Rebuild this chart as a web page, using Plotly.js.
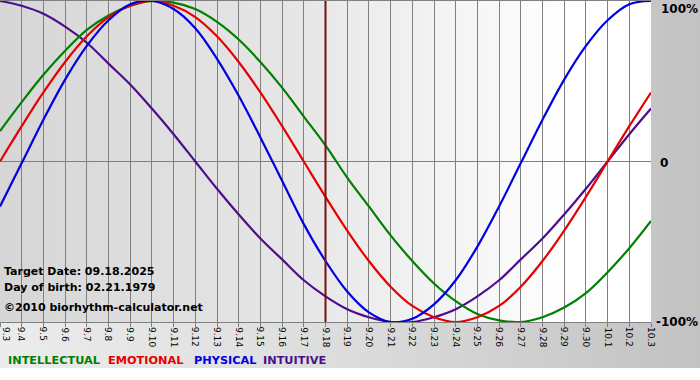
<!DOCTYPE html>
<html>
<head>
<meta charset="utf-8">
<script src="https://cdn.plot.ly/plotly-3.0.1.min.js"></script>
<style>
  html, body { margin: 0; padding: 0; background: #ffffff; }
  #wrap { position: relative; width: 700px; height: 380px; overflow: hidden; }
  #bgOuter { position: absolute; left: 0; top: 0; width: 700px; height: 368px;
    background: linear-gradient(to right, #ececec 0%, #dcdcdc 50%, #c2c2c2 100%); }
  #bgPlot { position: absolute; left: 0; top: 1px; width: 651px; height: 321px;
    background: linear-gradient(to right, #d6d6d6 0%, #e6e6e6 45%, #ffffff 88%, #ffffff 100%); }
  #chart { position: absolute; left: 0; top: 0; width: 700px; height: 380px; }
</style>
</head>
<body>
<div id="wrap">
  <div id="bgOuter"></div>
  <div id="bgPlot"></div>
  <div id="chart"></div>
</div>
<script>
// Day labels (Sept 3 .. Oct 3)
const dayLabels = ["9.3","9.4","9.5","9.6","9.7","9.8","9.9","9.10","9.11","9.12","9.13","9.14","9.15","9.16","9.17","9.18","9.19","9.20","9.21","9.22","9.23","9.24","9.25","9.26","9.27","9.28","9.29","9.30","10.1","10.2","10.3"];

// Values (fraction of 100%)
const physical = [-0.28,-0.01,0.26,0.51,0.72,0.88,0.98,1.00,0.95,0.83,0.64,0.41,0.15,-0.12,-0.39,-0.62,-0.81,-0.94,-1.00,-0.98,-0.89,-0.74,-0.53,-0.28,-0.01,0.26,0.51,0.72,0.88,0.98,1.00];
const emotional = [0.00,0.22,0.43,0.62,0.78,0.90,0.97,1.00,0.97,0.90,0.78,0.62,0.43,0.22,0.00,-0.22,-0.43,-0.62,-0.78,-0.90,-0.97,-1.00,-0.97,-0.90,-0.78,-0.62,-0.43,-0.22,0.00,0.22,0.43];
const intellectual = [0.19,0.37,0.54,0.69,0.82,0.91,0.97,1.00,0.99,0.95,0.87,0.76,0.62,0.46,0.28,0.10,-0.10,-0.28,-0.46,-0.62,-0.76,-0.87,-0.95,-0.99,-1.00,-0.97,-0.91,-0.82,-0.69,-0.54,-0.37];
const intuitive = [1.00,0.97,0.92,0.84,0.74,0.61,0.48,0.33,0.17,0.00,-0.17,-0.33,-0.48,-0.61,-0.74,-0.84,-0.92,-0.97,-1.00,-1.00,-0.97,-0.92,-0.84,-0.74,-0.61,-0.48,-0.33,-0.17,0.00,0.17,0.33];

const targetIndex = 15; // 9.18
const yTickVals = [-1, 0, 1];
const yTickText = ["-100%", "0", "100%"];

const xIdx = dayLabels.map((_, i) => i);
const F = "DejaVu Sans, Verdana, sans-serif";

function line(y, color, name) {
  return { x: xIdx, y: y, type: "scatter", mode: "lines", name: name,
    line: { color: color, width: 2.2, shape: "spline", smoothing: 1 },
    hoverinfo: "skip", cliponaxis: true };
}

const traces = [
  line(intuitive, "#4b0f8c", "INTUITIVE"),
  line(intellectual, "#008000", "INTELLECTUAL"),
  line(emotional, "#e80000", "EMOTIONAL"),
  line(physical, "#0000e0", "PHYSICAL")
];

const PW = 651, PH = 321, PB = 322;
const annotations = [
  { xref: "paper", yref: "paper", x: 1, y: 1, xanchor: "left", yanchor: "top", xshift: 8, yshift: 1,
    text: "<b>" + yTickText[2] + "</b>", showarrow: false, font: { family: F, size: 12, color: "#000" } },
  { xref: "paper", yref: "y", x: 1, y: 0, xanchor: "left", yanchor: "middle", xshift: 7, yshift: -1,
    text: "<b>" + yTickText[1] + "</b>", showarrow: false, font: { family: F, size: 12, color: "#000" } },
  { xref: "paper", yref: "y", x: 1, y: -1, xanchor: "left", yanchor: "middle", xshift: 3,
    text: "<b>" + yTickText[0] + "</b>", showarrow: false, font: { family: F, size: 12, color: "#000" } },
  { xref: "paper", yref: "paper", x: 2 / PW, y: (PB - 271) / PH, xanchor: "left", yanchor: "middle",
    text: "<b>Target Date: 09.18.2025</b>", showarrow: false, font: { family: F, size: 11, color: "#000" } },
  { xref: "paper", yref: "paper", x: 2 / PW, y: (PB - 287) / PH, xanchor: "left", yanchor: "middle",
    text: "<b>Day of birth: 02.21.1979</b>", showarrow: false, font: { family: F, size: 11, color: "#000" } },
  { xref: "paper", yref: "paper", x: 2 / PW, y: (PB - 307) / PH, xanchor: "left", yanchor: "middle",
    text: "<b>©2010 biorhythm-calculator.net</b>", showarrow: false, font: { family: F, size: 11, color: "#000" } }
];

// rotated day labels, top-aligned just below the ticks
dayLabels.forEach((lab, i) => annotations.push({
  xref: "x", yref: "paper", x: i, y: (PB - 326) / PH,
  xanchor: i === 0 ? "left" : "center", yanchor: "top",
  textangle: 90, text: lab, showarrow: false, borderpad: 0,
  font: { family: F, size: 9, color: "#000" }
}));

const legendItems = [
  { t: "INTELLECTUAL", c: "#008000", x: 6 },
  { t: "EMOTIONAL", c: "#e80000", x: 106 },
  { t: "PHYSICAL", c: "#0000e0", x: 192 },
  { t: "INTUITIVE", c: "#4b0f8c", x: 261 }
];
legendItems.forEach(it => annotations.push({
  xref: "paper", yref: "paper", x: it.x / PW, y: (PB - 361) / PH, xanchor: "left", yanchor: "middle",
  text: "<b>" + it.t + "</b>", showarrow: false, font: { family: F, size: 11.3, color: it.c }
}));

const layout = {
  width: 700, height: 380,
  margin: { l: 0, r: 49, t: 1, b: 58, pad: 0 },
  paper_bgcolor: "rgba(0,0,0,0)",
  plot_bgcolor: "rgba(0,0,0,0)",
  showlegend: false,
  xaxis: {
    range: [0, 30], tickmode: "array", tickvals: xIdx, showticklabels: false,
    ticks: "outside", ticklen: 4, tickcolor: "#808080", tickwidth: 1,
    showgrid: true, gridcolor: "#808080", gridwidth: 1,
    showline: true, linecolor: "#808080", linewidth: 1, mirror: true,
    zeroline: false, fixedrange: true
  },
  yaxis: {
    range: [-1, 1], tickmode: "array", tickvals: yTickVals, showticklabels: false,
    showgrid: true, gridcolor: "#808080", gridwidth: 1, zeroline: false,
    showline: false, ticks: "", fixedrange: true
  },
  shapes: [
    { type: "line", xref: "x", yref: "paper", x0: targetIndex, x1: targetIndex, y0: 0, y1: 1,
      line: { color: "#7a1010", width: 2 }, layer: "above" }
  ],
  annotations: annotations
};

Plotly.newPlot("chart", traces, layout, { staticPlot: true, displayModeBar: false });
</script>
</body>
</html>
